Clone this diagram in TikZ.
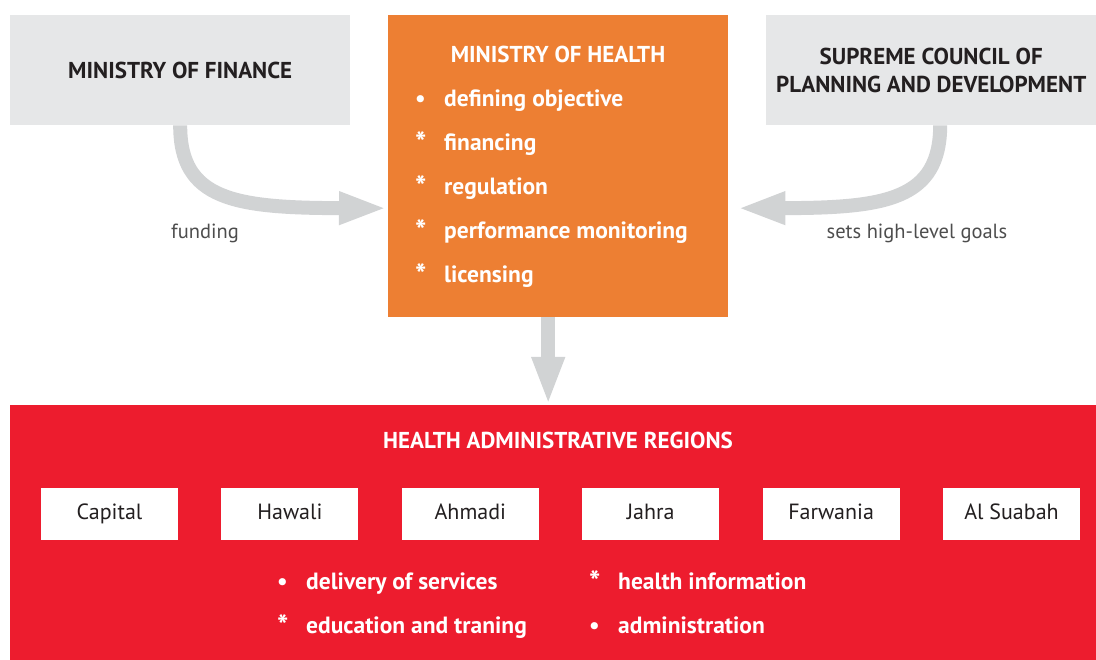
\documentclass[tikz,border=0pt]{standalone}
\usepackage{fontspec}
\setmainfont{PT Sans}
\usetikzlibrary{arrows.meta, positioning}
\definecolor{boxgray}{HTML}{E6E7E8}
\definecolor{health}{HTML}{ED7F33}
\definecolor{regions}{HTML}{ED1C2E}
\definecolor{flow}{HTML}{D1D3D4}
\definecolor{note}{HTML}{4D4D4D}
\definecolor{ink}{HTML}{231F20}
\newcommand{\bul}{\makebox[29pt][l]{\textbullet}}
\newcommand{\stab}{\makebox[29pt][l]{\raisebox{-3pt}{\fontsize{30}{30}\selectfont *}}}

\begin{document}
\begin{tikzpicture}[x=1pt, y=-1pt,
    title/.style={font=\fontsize{23}{28}\selectfont\bfseries, align=center},
    item/.style={font=\fontsize{23.5}{26}\selectfont\bfseries, text=white, anchor=base west, inner sep=0pt},
    region/.style={fill=white, minimum width=137pt, minimum height=52pt, inner sep=0pt, outer sep=0pt, text height=15pt, text depth=4pt, font=\fontsize{22}{26}\selectfont, text=ink},
    flowline/.style={flow, line width=14pt, -{Triangle[length=48pt, width=30pt]}},
    remark/.style={font=\fontsize{20.5}{24}\selectfont, text=note}]
  \useasboundingbox (0,0) rectangle (1096,660);

  % top row
  \node[fill=boxgray, minimum width=340pt, minimum height=110pt, anchor=north west, title, text=ink] (fin) at (10,15)
    {MINISTRY OF FINANCE};
  \node[fill=health, minimum width=340pt, minimum height=302pt, anchor=north west] (moh) at (388,15) {};
  \node[fill=boxgray, minimum width=330pt, minimum height=110pt, anchor=north west, title, text=ink] (scpd) at (766,15)
    {SUPREME COUNCIL OF\\PLANNING AND DEVELOPMENT};

  \node[item, font=\fontsize{23}{26}\selectfont\bfseries, anchor=base] (mohtitle) at (558,63) {MINISTRY OF HEALTH};
  \node[item] (obj) at (415,107) {\bul defining objective};
  \node[item] (fina) at (415,151) {\stab financing};
  \node[item] (reg) at (415,195) {\stab regulation};
  \node[item] (perf) at (415,239) {\stab performance monitoring};
  \node[item] (lic) at (415,283) {\stab licensing};

  % regions
  \node[fill=regions, minimum width=1086pt, minimum height=255pt, anchor=north west] (har) at (10,405) {};
  \node[item, font=\fontsize{23}{26}\selectfont\bfseries, anchor=base] (hartitle) at (558,449) {HEALTH ADMINISTRATIVE REGIONS};

  \node[region, anchor=west] (cap) at (41,514) {Capital};
  \node[region, right=43.4pt of cap] (haw) {Hawali};
  \node[region, right=43.4pt of haw] (ahm) {Ahmadi};
  \node[region, right=43.4pt of ahm] (jah) {Jahra};
  \node[region, right=43.4pt of jah] (far) {Farwania};
  \node[region, right=43.4pt of far] (sua) {Al Suabah};

  \node[item] (deliv) at (277,589) {\bul delivery of services};
  \node[item] (edu) at (277,633) {\stab education and traning};
  \node[item] (info) at (589,589) {\stab health information};
  \node[item] (adm) at (589,633) {\bul administration};

  % connectors
  \draw[flowline] (fin.south) .. controls (180,200) and (235,208) .. ([xshift=-1pt, yshift=-42pt]moh.west);
  \draw[flowline] ([xshift=9pt]scpd.south) .. controls (940,200) and (885,208) .. ([xshift=9pt, yshift=-42pt]moh.east);
  \draw[flowline] ([xshift=-10pt]moh.south) -- ([xshift=-10pt]moh.south |- har.north);

  \node[remark] (fund) at (205,233) {funding};
  \node[remark] (goals) at (917,233) {sets high-level goals};
\end{tikzpicture}
\end{document}
